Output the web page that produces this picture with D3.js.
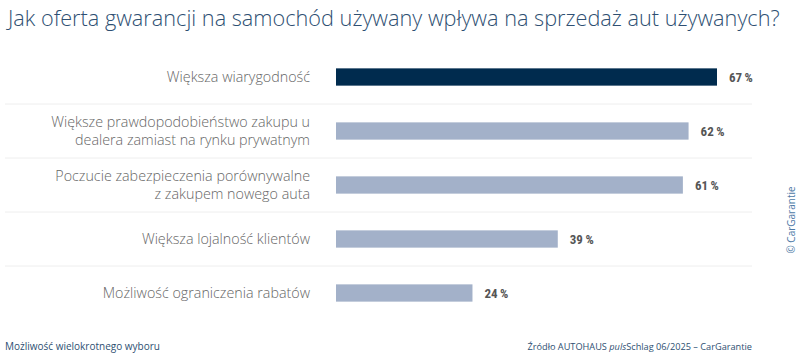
<!DOCTYPE html>
<html><head><meta charset="utf-8">
<script src="https://cdn.jsdelivr.net/npm/d3@7"></script>
<style>body{margin:0;background:#fff}svg{display:block}</style>
</head><body>
<svg id="c" width="800" height="358"></svg>
<script>
const categories = [
  ["Większa wiarygodność"],
  ["Większe prawdopodobieństwo zakupu u", "dealera zamiast na rynku prywatnym"],
  ["Poczucie zabezpieczenia porównywalne", "z zakupem nowego auta"],
  ["Większa lojalność klientów"],
  ["Możliwość ograniczenia rabatów"]
];
const values = [67, 62, 61, 39, 24];
const highlight = [true, false, false, false, false];
const titleText = "Jak oferta gwarancji na samochód używany wpływa na sprzedaż aut używanych?";
const noteText = "Możliwość wielokrotnego wyboru";
const copyrightText = "© CarGarantie";

const svg = d3.select("#c");
const font = "'Open Sans', sans-serif";
const blue = "#2e4f72";

const x = d3.scaleLinear().domain([0, 67]).range([336, 717]);
const y = d3.scaleBand().domain(d3.range(values.length)).range([50, 320]).paddingInner(0.68).paddingOuter(0.34);

svg.append("text").attr("x", 8).attr("y", 26).attr("font-family", font).attr("font-weight", 300)
  .attr("font-size", 21.7).attr("fill", blue).text(titleText);

// separators
svg.selectAll("line.sep").data(d3.range(1, values.length)).join("line")
  .attr("x1", 5).attr("x2", 752)
  .attr("y1", i => (y(i - 1) + y.bandwidth() / 2 + y(i) + y.bandwidth() / 2) / 2)
  .attr("y2", i => (y(i - 1) + y.bandwidth() / 2 + y(i) + y.bandwidth() / 2) / 2)
  .attr("stroke", "#eeeeee").attr("stroke-width", 1);

svg.selectAll("rect.bar").data(values).join("rect")
  .attr("x", x(0)).attr("y", (d, i) => y(i))
  .attr("width", d => x(d) - x(0)).attr("height", y.bandwidth())
  .attr("fill", (d, i) => highlight[i] ? "#002b4e" : "#a3b1c9");

svg.selectAll("text.val").data(values).join("text")
  .attr("x", d => x(d) + 12).attr("y", (d, i) => y(i) + y.bandwidth() / 2 + 4.5)
  .attr("font-family", "'Liberation Sans Narrow', 'Roboto Condensed', sans-serif").attr("font-weight", 700)
  .attr("font-size", 13).attr("fill", "#555").text(d => d + "\u2009%");

const lab = svg.selectAll("text.lab").data(categories).join("text")
  .attr("text-anchor", "end").attr("font-family", font).attr("font-weight", 300)
  .attr("font-size", 14.3).attr("fill", "#666");
lab.each(function (lines, i) {
  const cy = y(i) + y.bandwidth() / 2;
  const n = lines.length;
  d3.select(this).selectAll("tspan").data(lines).join("tspan")
    .attr("x", 310).attr("y", (l, k) => cy + 5 + (k - (n - 1) / 2) * 17.5).text(l => l);
});

svg.append("text").attr("x", 5).attr("y", 350).attr("font-family", font).attr("font-size", 10)
  .attr("fill", blue).text(noteText);

const src = svg.append("text").attr("x", 752).attr("y", 350).attr("text-anchor", "end")
  .attr("font-family", font).attr("font-size", 9.2).attr("fill", blue);
src.append("tspan").text("Źródło AUTOHAUS ");
src.append("tspan").attr("font-style", "italic").text("puls");
src.append("tspan").text("Schlag 06/2025 – CarGarantie");

svg.append("text").attr("transform", "translate(795,220) rotate(-90)").attr("text-anchor", "middle")
  .attr("font-family", font).attr("font-size", 10).attr("fill", "#4d79a6").text(copyrightText);
</script>
</body></html>
